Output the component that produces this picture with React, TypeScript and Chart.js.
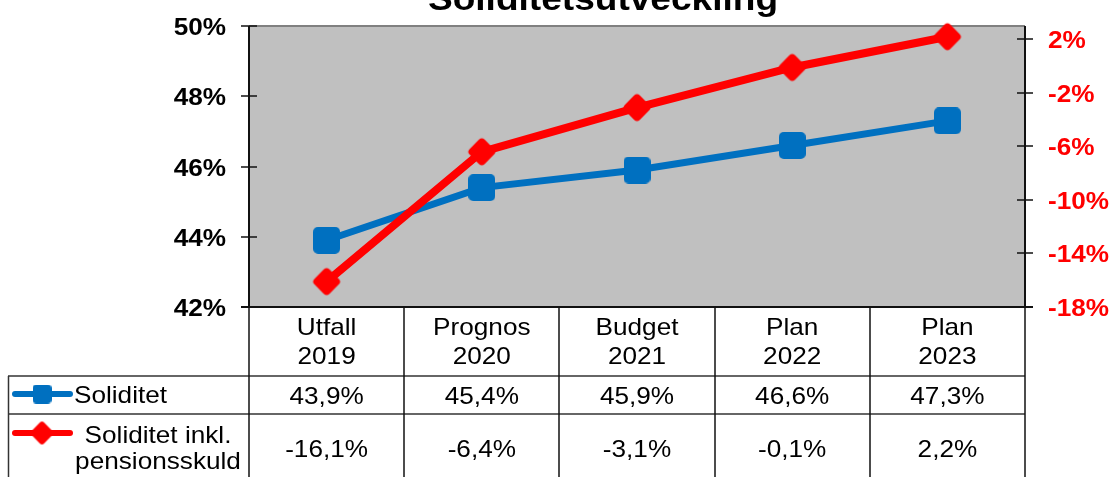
import React, { useEffect, useRef } from 'react';
import { Chart, registerables } from 'chart.js';

Chart.register(...registerables);

const title = 'Soliditetsutveckling';
const categories: string[][] = [
  ['Utfall', '2019'],
  ['Prognos', '2020'],
  ['Budget', '2021'],
  ['Plan', '2022'],
  ['Plan', '2023'],
];
const soliditet = [43.9, 45.4, 45.9, 46.6, 47.3];
const soliditetInklPension = [-16.1, -6.4, -3.1, -0.1, 2.2];
const leftTicks = [42, 44, 46, 48, 50];
const rightTicks = [-18, -14, -10, -6, -2, 2];
const seriesLabels: string[][] = [['Soliditet'], ['Soliditet inkl.', 'pensionsskuld']];

const BLUE = '#0070C0';
const RED = '#FF0000';
const FONT = '"Liberation Sans", Arial, sans-serif';
const SX = 1.09;

function fmt(v: number) {
  return v.toFixed(1).replace('.', ',') + '%';
}

function txt(ctx: CanvasRenderingContext2D, s: string, x: number, y: number, align: string, font: string, color: string) {
  ctx.save();
  ctx.font = font;
  ctx.fillStyle = color;
  ctx.textBaseline = 'alphabetic';
  ctx.textAlign = 'left';
  const w = ctx.measureText(s).width * SX;
  const left = align === 'center' ? x - w / 2 : align === 'right' ? x - w : x;
  ctx.translate(left, y);
  ctx.scale(SX, 1);
  ctx.fillText(s, 0, 0);
  ctx.restore();
}

function makeSquare(size: number, r: number, color: string) {
  const c = document.createElement('canvas');
  c.width = size;
  c.height = size;
  const g = c.getContext('2d')!;
  g.fillStyle = color;
  g.beginPath();
  g.roundRect(0, 0, size, size, r);
  g.fill();
  return c;
}

function makeDiamond(size: number, r: number, color: string) {
  const c = document.createElement('canvas');
  c.width = size;
  c.height = size;
  const g = c.getContext('2d')!;
  const s = size;
  g.fillStyle = color;
  g.beginPath();
  g.moveTo(0.75 * s, 0.25 * s);
  g.arcTo(s, s / 2, s / 2, s, r);
  g.arcTo(s / 2, s, 0, s / 2, r);
  g.arcTo(0, s / 2, s / 2, 0, r);
  g.arcTo(s / 2, 0, s, s / 2, r);
  g.closePath();
  g.fill();
  return c;
}

function line(ctx: CanvasRenderingContext2D, x1: number, y1: number, x2: number, y2: number, color: string, w: number) {
  ctx.save();
  ctx.strokeStyle = color;
  ctx.lineWidth = w;
  ctx.beginPath();
  ctx.moveTo(x1, y1);
  ctx.lineTo(x2, y2);
  ctx.stroke();
  ctx.restore();
}

export default function App() {
  const ref = useRef<HTMLCanvasElement>(null);

  useEffect(() => {
    const canvas = ref.current!;
    const blueMarker = makeSquare(27, 5, BLUE);
    const redMarker = makeDiamond(30, 4, RED);
    const blueLegend = makeSquare(19, 4, BLUE);
    const redLegend = makeDiamond(25, 3, RED);

    const backPlugin = {
      id: 'backPlugin',
      beforeDatasetsDraw(chart: any) {
        const { ctx, chartArea: a } = chart;
        const yL = chart.scales.y;
        const yR = chart.scales.y2;
        ctx.save();
        ctx.fillStyle = '#C0C0C0';
        ctx.fillRect(a.left, a.top, a.right - a.left, a.bottom - a.top);
        line(ctx, a.left, a.top, a.right, a.top, '#808080', 2);
        line(ctx, a.left, a.top, a.left, a.bottom, '#111', 2);
        line(ctx, a.right, a.top, a.right, a.bottom, '#111', 2);
        leftTicks.forEach((v) => {
          const y = Math.round(yL.getPixelForValue(v));
          line(ctx, a.left - 8, y, a.left + 8, y, '#111', 1.5);
        });
        rightTicks.forEach((v) => {
          const y = Math.round(yR.getPixelForValue(v));
          line(ctx, a.right - 8, y, a.right + 8, y, '#111', 1.5);
        });
        ctx.restore();
      },
      afterDraw(chart: any) {
        const { ctx, chartArea: a } = chart;
        const yL = chart.scales.y;
        const yR = chart.scales.y2;
        const xS = chart.scales.x;
        const bold = `bold 24px ${FONT}`;
        const normal = `24px ${FONT}`;
        // title
        txt(ctx, title, 603, 10, 'center', `bold 34px ${FONT}`, '#000');
        // tick labels
        leftTicks.forEach((v) => {
          const y = yL.getPixelForValue(v);
          txt(ctx, v + '%', 226, y + 9, 'right', bold, '#000');
        });
        rightTicks.forEach((v) => {
          const y = yR.getPixelForValue(v);
          txt(ctx, v + '%', 1048, y + 9, 'left', bold, RED);
        });
        // table
        const colW = (a.right - a.left) / categories.length;
        const row1 = 376;
        const row2 = 414;
        const bottom = 480;
        line(ctx, a.left - 8, a.bottom, a.right + 8, a.bottom, '#111', 2);
        line(ctx, 8, row1, a.right, row1, '#333', 1.5);
        line(ctx, 8, row2, a.right, row2, '#333', 1.5);
        line(ctx, 8.5, row1, 8.5, bottom, '#333', 1.5);
        for (let i = 0; i <= categories.length; i++) {
          const x = Math.round(a.left + i * colW);
          line(ctx, x, a.bottom, x, bottom, '#111', 1.5);
        }
        categories.forEach((c, i) => {
          const cx = xS.getPixelForValue(i);
          txt(ctx, c[0], cx, 335, 'center', normal, '#000');
          txt(ctx, c[1], cx, 364, 'center', normal, '#000');
          txt(ctx, fmt(soliditet[i]), cx, 404, 'center', normal, '#000');
          txt(ctx, fmt(soliditetInklPension[i]), cx, 457, 'center', normal, '#000');
        });
        // legend keys
        ctx.save();
        ctx.lineCap = 'round';
        line(ctx, 15, 394, 70, 394, BLUE, 6);
        ctx.drawImage(blueLegend, 42 - 9.5, 394 - 9.5);
        ctx.lineCap = 'round';
        ctx.restore();
        ctx.save();
        ctx.lineCap = 'round';
        ctx.strokeStyle = RED;
        ctx.lineWidth = 6;
        ctx.beginPath();
        ctx.moveTo(15, 433);
        ctx.lineTo(70, 433);
        ctx.stroke();
        ctx.strokeStyle = BLUE;
        ctx.restore();
        ctx.drawImage(redLegend, 42 - 12.5, 433 - 12.5);
        txt(ctx, seriesLabels[0][0], 74, 403, 'left', normal, '#000');
        txt(ctx, seriesLabels[1][0], 158, 443, 'center', normal, '#000');
        txt(ctx, seriesLabels[1][1], 158, 469, 'center', normal, '#000');
      },
    };

    const chart = new Chart(canvas, {
      type: 'line',
      data: {
        labels: categories.map((c) => c.join(' ')),
        datasets: [
          {
            label: 'Soliditet inkl. pensionsskuld',
            data: soliditetInklPension,
            yAxisID: 'y2',
            borderColor: RED,
            backgroundColor: RED,
            borderWidth: 8,
            pointStyle: redMarker as any,
            pointRadius: 14,
            pointHoverRadius: 14,
            tension: 0,
            clip: false as any,
            order: 0,
          },
          {
            label: 'Soliditet',
            data: soliditet,
            yAxisID: 'y',
            borderColor: BLUE,
            backgroundColor: BLUE,
            borderWidth: 7,
            pointStyle: blueMarker as any,
            pointRadius: 14,
            pointHoverRadius: 14,
            tension: 0,
            clip: false as any,
            order: 1,
          },
        ],
      },
      options: {
        responsive: false,
        animation: false,
        devicePixelRatio: 1,
        layout: { padding: { left: 249, top: 26, right: 85, bottom: 170 } },
        plugins: { legend: { display: false }, tooltip: { enabled: false }, title: { display: false } },
        events: [],
        scales: {
          x: { type: 'category', display: false, offset: true },
          y: { type: 'linear', display: false, min: 42, max: 50, position: 'left' },
          y2: { type: 'linear', display: false, min: -18, max: 3, position: 'right' },
        },
      },
      plugins: [backPlugin],
    });
    return () => chart.destroy();
  }, []);

  return (
    <div style={{ position: 'absolute', left: 0, top: 0, width: 1110, height: 477, overflow: 'hidden', background: '#fff' }}>
      <canvas ref={ref} width={1110} height={477} style={{ display: 'block' }} />
    </div>
  );
}
